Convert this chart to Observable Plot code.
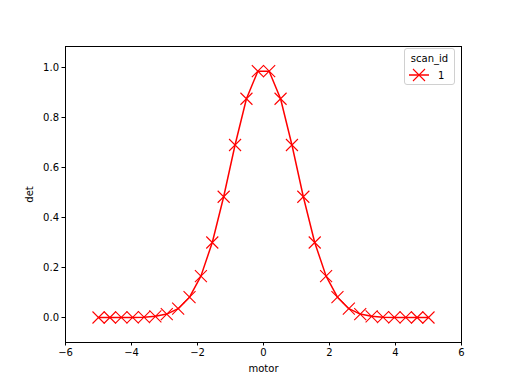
<!DOCTYPE html>
<html>
<head>
<meta charset="utf-8">
<script src="https://cdn.jsdelivr.net/npm/d3@7"></script>
<script src="https://cdn.jsdelivr.net/npm/@observablehq/plot@0.6"></script>
<style>
  html, body { margin: 0; padding: 0; background: #fff; }
  #wrap { position: relative; width: 512px; height: 384px; font-family: "DejaVu Sans", sans-serif; }
  #legend { position: absolute; left: 404px; top: 48px; width: 51px; height: 37px; border: 1px solid #d0d0d0; border-radius: 3px; background: rgba(255,255,255,0.8); font-size: 10px; color: #000; box-sizing: border-box; }
  #legend .title { position: absolute; left: 0; right: 0; top: 4px; text-align: center; }
  #legend .row { position: absolute; left: 4px; top: 19px; }
</style>
</head>
<body>
<div id="wrap"></div>
<script>
const motor = [-5.000, -4.655, -4.310, -3.966, -3.621, -3.276, -2.931, -2.586, -2.241, -1.897,
               -1.552, -1.207, -0.862, -0.517, -0.172, 0.172, 0.517, 0.862, 1.207, 1.552,
               1.897, 2.241, 2.586, 2.931, 3.276, 3.621, 3.966, 4.310, 4.655, 5.000];
const det = [0.0000, 0.0000, 0.0001, 0.0004, 0.0014, 0.0047, 0.0136, 0.0353, 0.0812, 0.1655,
             0.3000, 0.4830, 0.6900, 0.8750, 0.9853, 0.9853, 0.8750, 0.6900, 0.4830, 0.3000,
             0.1655, 0.0812, 0.0353, 0.0136, 0.0047, 0.0014, 0.0004, 0.0001, 0.0000, 0.0000];
const xTicks = [-6, -4, -2, 0, 2, 4, 6];
const yTicks = [0.0, 0.2, 0.4, 0.6, 0.8, 1.0];
const scanId = "1";

const data = motor.map((m, i) => ({motor: m, det: det[i]}));

// matplotlib-style "x" marker
const xMarker = {
  draw(context, size) {
    const h = Math.sqrt(size / Math.PI);
    context.moveTo(-h, -h);
    context.lineTo(h, h);
    context.moveTo(-h, h);
    context.lineTo(h, -h);
  }
};

const chart = Plot.plot({
  width: 512,
  height: 384,
  marginLeft: 65,
  marginRight: 51,
  marginTop: 46,
  marginBottom: 42,
  style: {fontFamily: "DejaVu Sans, sans-serif", fontSize: "10px", color: "#000", background: "#fff"},
  x: {domain: [-6, 6], ticks: xTicks, tickFormat: d => d < 0 ? "\u2212" + Math.abs(d) : String(d), tickSize: 3.5, tickPadding: 3, label: "motor", labelArrow: "none", labelAnchor: "center", labelOffset: 29},
  y: {domain: [-0.1, 1.084], ticks: yTicks, tickFormat: d => d.toFixed(1), tickSize: 3.5, tickPadding: 3, label: "det", labelArrow: "none", labelAnchor: "center", labelOffset: 40},
  marks: [
    Plot.frame({stroke: "#000", strokeWidth: 1}),
    Plot.line(data, {x: "motor", y: "det", stroke: "#ff0000", strokeWidth: 1.5}),
    Plot.dot(data, {x: "motor", y: "det", symbol: xMarker, r: 6, fill: "none", stroke: "#ff0000", strokeWidth: 1.1, strokeOpacity: 1})
  ]
});
const wrap = document.getElementById("wrap");
wrap.appendChild(chart);

const legend = document.createElement("div");
legend.id = "legend";
legend.innerHTML = `<div class="title">scan_id</div>
<div class="row"><svg width="44" height="14" style="vertical-align:middle">
<line x1="0" y1="7" x2="20" y2="7" stroke="#ff0000" stroke-width="1.5"/>
<path d="M4,1L16,13M4,13L16,1" stroke="#ff0000" stroke-width="1.1" fill="none"/>
<text x="29" y="11" font-size="10" font-family="DejaVu Sans, sans-serif">${scanId}</text>
</svg></div>`;
wrap.appendChild(legend);
</script>
</body>
</html>
